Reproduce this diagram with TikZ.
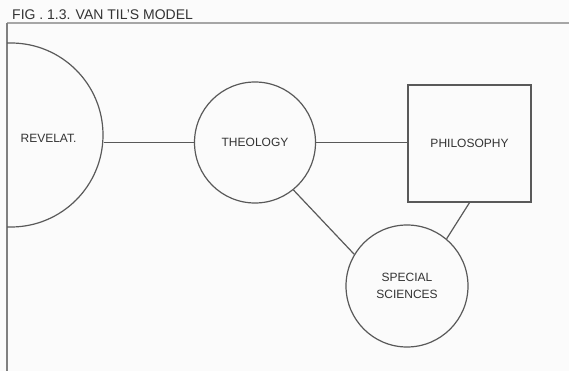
\documentclass[tikz,border=0pt]{standalone}
\usepackage{fontspec}
\setmainfont{Liberation Sans}
\begin{document}
\begin{tikzpicture}[x=1pt,y=-1pt,
  lbl/.style={font=\fontsize{12}{17}\selectfont, text=black!80, align=center},
  ring/.style={draw=black!65, line width=1.2pt, circle, inner sep=0pt},
  box/.style={draw=black!65, line width=1.3pt, rectangle, inner sep=0pt},
  link/.style={draw=black!65, line width=1.2pt},
  frame/.style={line width=1.8pt}]
\fill[black!1.5] (0,0) rectangle (569,371);
\useasboundingbox (0,0) rectangle (569,371);
% title and frame
\node[anchor=west, font=\fontsize{14}{16}\selectfont, text=black!80, inner sep=0pt] (title) at (12,14.5) {FIG . 1.3. VAN TIL'S MODEL};
\coordinate (tl) at (7,23);
\coordinate (tr) at (569,23);
\coordinate (bl) at (7,371);
\draw[frame, draw=black!35] (tl) -- (tr);
\draw[frame, draw=black!50] (tl) -- (bl);
% nodes
\begin{scope}
\clip (7,0) rectangle (569,371);
\node[ring, minimum size=184pt] (rev) at (11,135) {};
\end{scope}
\node[lbl] (revt) at (48.5,138) {REVELAT.};
\node[ring, minimum size=121pt, lbl] (theo) at (255,142.5) {THEOLOGY};
\node[box, minimum width=123pt, minimum height=117pt, lbl] (phil) at (469.5,143.5) {PHILOSOPHY};
\node[ring, minimum size=122pt, lbl] (spec) at (407,286) {SPECIAL\\SCIENCES};
% connectors
\draw[link] (theo.west) -- (theo.west -| rev.east);
\draw[link] (theo.east) -- (theo.east -| phil.west);
\draw[link] (theo.-51) -- (spec.149);
\draw[link] (phil.south) -- (spec.50);
\end{tikzpicture}
\end{document}
